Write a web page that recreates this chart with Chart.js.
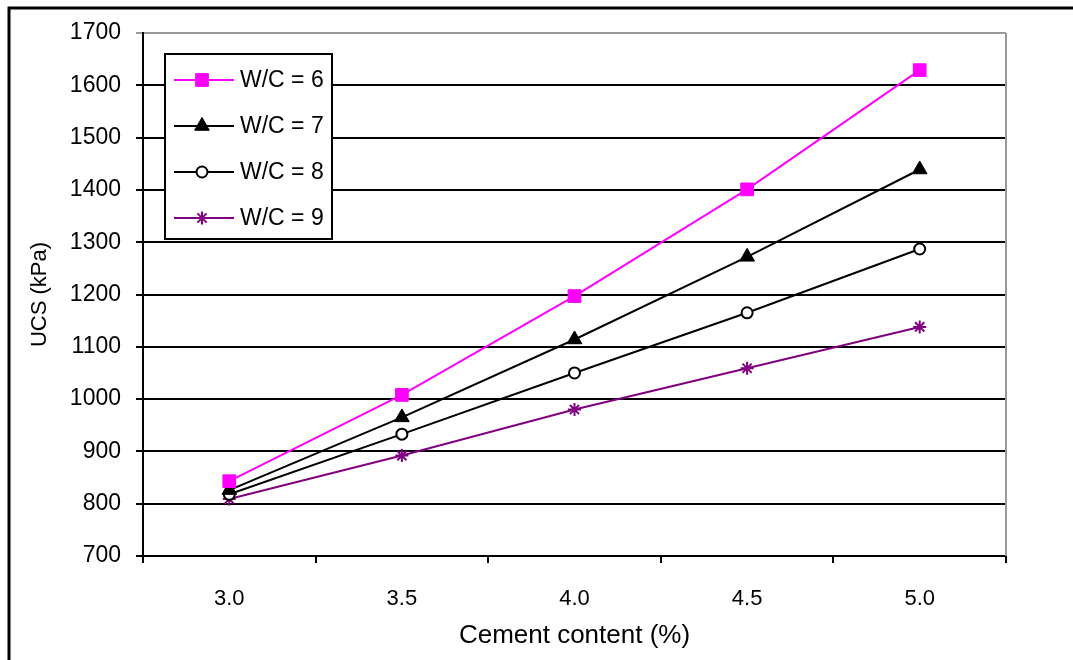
<!DOCTYPE html>
<html lang="en">
<head>
    <meta charset="UTF-8">
    <title>UCS vs Cement content</title>
    <script src="https://cdn.jsdelivr.net/npm/chart.js"></script>
    <style>
        body { margin: 0; background: #fff; }
        canvas { display: block; }
    </style>
</head>
<body>
    <canvas id="ucsChart" width="1073" height="660"></canvas>

    <script>
        // values
        const cementContent = ['3.0', '3.5', '4.0', '4.5', '5.0'];
        const wc6 = [843, 1008, 1197, 1401, 1629];
        const wc7 = [826, 965, 1114, 1272, 1439];
        const wc8 = [818, 933, 1050, 1165, 1287];
        const wc9 = [809, 892, 980, 1059, 1138];
        const seriesNames = ['W/C = 6', 'W/C = 7', 'W/C = 8', 'W/C = 9'];
        const yTicks = [700, 800, 900, 1000, 1100, 1200, 1300, 1400, 1500, 1600, 1700];

        const FONT = 'Liberation Sans, Arial, sans-serif';

        // draws the legend box inside the plot, plus frame and gray plot border
        const extras = {
            id: 'extras',
            afterDatasetsDraw(chart) {
                const ctx = chart.ctx;
                const area = chart.chartArea;
                ctx.save();

                // gray right border of plot area
                ctx.strokeStyle = '#9a9a9a';
                ctx.lineWidth = 2;
                ctx.beginPath();
                ctx.moveTo(area.right, area.top);
                ctx.lineTo(area.right, area.bottom);
                ctx.stroke();

                // legend box
                ctx.fillStyle = '#fff';
                ctx.fillRect(165, 54, 167, 185);
                ctx.strokeStyle = '#000';
                ctx.lineWidth = 2;
                ctx.strokeRect(165, 54, 167, 185);

                chart.data.datasets.forEach((ds, i) => {
                    const y = 80 + i * 46;
                    ctx.strokeStyle = ds.borderColor;
                    ctx.lineWidth = 2;
                    ctx.beginPath();
                    ctx.moveTo(174, y);
                    ctx.lineTo(234, y);
                    ctx.stroke();

                    ctx.fillStyle = ds.pointBackgroundColor;
                    ctx.strokeStyle = ds.pointBorderColor;
                    ctx.lineWidth = ds.pointBorderWidth;
                    if (Chart.helpers && Chart.helpers.drawPoint) {
                        Chart.helpers.drawPoint(ctx, {
                            pointStyle: ds.pointStyle,
                            radius: ds.pointRadius,
                            rotation: 0,
                            borderWidth: ds.pointBorderWidth
                        }, 202, y);
                    }

                    ctx.fillStyle = '#000';
                    ctx.font = '23px ' + FONT;
                    ctx.textBaseline = 'middle';
                    ctx.textAlign = 'left';
                    ctx.fillText(ds.label, 240, y + 1);
                });

                // outer frame (top and left edges)
                ctx.strokeStyle = '#000';
                ctx.lineWidth = 3;
                ctx.beginPath();
                ctx.moveTo(9, 660);
                ctx.lineTo(9, 8);
                ctx.lineTo(1073, 8);
                ctx.stroke();
                ctx.restore();
            }
        };

        const ctx = document.getElementById('ucsChart').getContext('2d');

        new Chart(ctx, {
            type: 'line',
            data: {
                labels: cementContent,
                datasets: [{
                    label: seriesNames[0],
                    data: wc6,
                    borderColor: '#ff00ff',
                    borderWidth: 2,
                    pointStyle: 'rect',
                    pointRadius: 9,
                    pointBackgroundColor: '#ff00ff',
                    pointBorderColor: '#ff00ff',
                    pointBorderWidth: 1
                }, {
                    label: seriesNames[1],
                    data: wc7,
                    borderColor: '#000000',
                    borderWidth: 2,
                    pointStyle: 'triangle',
                    pointRadius: 8.5,
                    pointBackgroundColor: '#000000',
                    pointBorderColor: '#000000',
                    pointBorderWidth: 1
                }, {
                    label: seriesNames[2],
                    data: wc8,
                    borderColor: '#000000',
                    borderWidth: 2,
                    pointStyle: 'circle',
                    pointRadius: 5.5,
                    pointBackgroundColor: '#ffffff',
                    pointBorderColor: '#000000',
                    pointBorderWidth: 2
                }, {
                    label: seriesNames[3],
                    data: wc9,
                    borderColor: '#800080',
                    borderWidth: 2,
                    pointStyle: 'star',
                    pointRadius: 6.5,
                    pointBackgroundColor: '#800080',
                    pointBorderColor: '#800080',
                    pointBorderWidth: 2
                }]
            },
            options: {
                responsive: false,
                animation: false,
                devicePixelRatio: 1,
                layout: { padding: { top: 33, right: 67, left: 0, bottom: 0 } },
                elements: { line: { tension: 0 } },
                scales: {
                    x: {
                        offset: true,
                        grid: {
                            offset: true,
                            drawOnChartArea: false,
                            tickLength: 7,
                            color: '#000',
                            lineWidth: 2
                        },
                        border: { color: '#000', width: 2 },
                        ticks: {
                            color: '#000',
                            padding: 23,
                            font: { family: FONT, size: 22 }
                        },
                        title: {
                            display: true,
                            text: 'Cement content (%)',
                            color: '#000',
                            font: { family: FONT, size: 26 },
                            padding: { top: 0, bottom: 9 }
                        },
                        afterFit(scale) { scale.height = 104; }
                    },
                    y: {
                        min: yTicks[0],
                        max: yTicks[yTicks.length - 1],
                        afterBuildTicks(scale) {
                            scale.ticks = yTicks.map(v => ({ value: v }));
                        },
                        grid: {
                            tickLength: 7,
                            lineWidth: 2,
                            color: c => (c.tick && c.tick.value === 1700) ? '#9a9a9a' : '#000'
                        },
                        border: { color: '#000', width: 2 },
                        ticks: {
                            color: '#000',
                            padding: 15,
                            font: { family: FONT, size: 23 },
                            callback: v => String(v)
                        },
                        title: {
                            display: true,
                            text: 'UCS (kPa)',
                            color: '#000',
                            font: { family: FONT, size: 22 },
                            padding: { top: 27, bottom: 0 }
                        },
                        afterFit(scale) { scale.width = 143; }
                    }
                },
                plugins: {
                    legend: { display: false },
                    tooltip: { enabled: false }
                }
            },
            plugins: [extras]
        });
    </script>
</body>
</html>
